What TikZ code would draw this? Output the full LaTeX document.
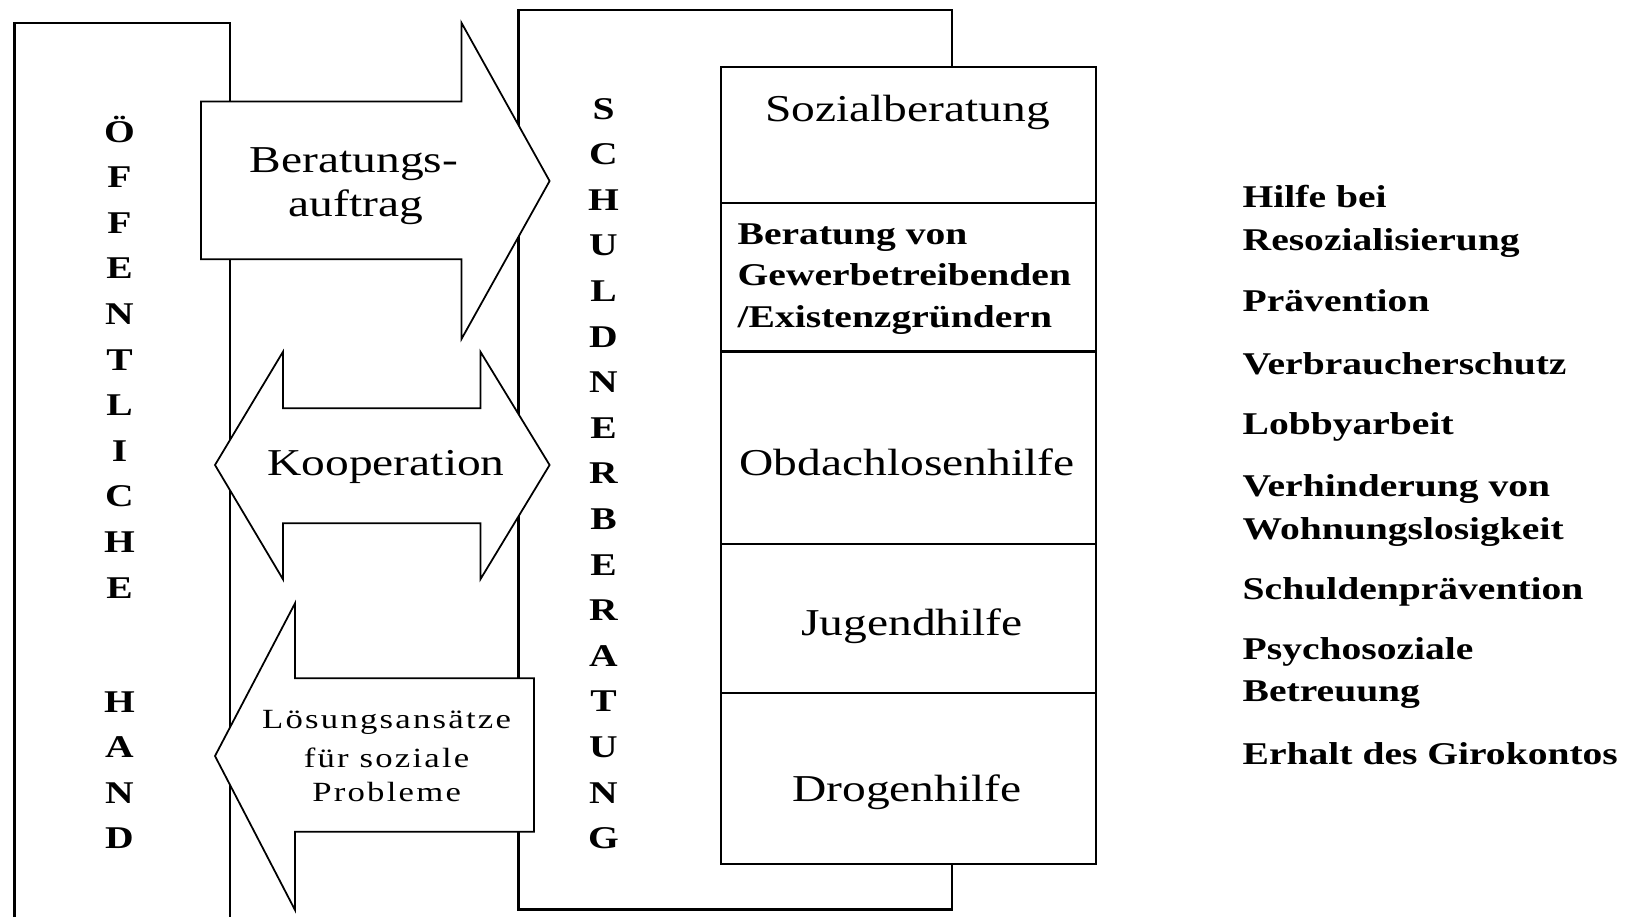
\documentclass[tikz,border=0pt]{standalone}
\usepackage{fontspec}
\setmainfont{Liberation Serif}[FakeStretch=1.25]
\newfontfamily\thinfont{Liberation Serif}[FakeStretch=1.25, LetterSpace=8]
\usepackage{tikz}
\tikzset{
    x=0.01cm,
    y=-0.01cm,
    frame/.style = {
        draw,
        line width=0.6pt
    },
    block/.style = {
        draw,
        fill=white,
        line width=0.6pt
    },
    bigarrow/.style = {
        draw,
        fill=white,
        line width=0.5pt,
        line join=miter
    },
    label/.style = {
        font=\fontsize{10.8}{12.2}\selectfont,
        anchor=base,
        inner sep=0pt
    },
    letter/.style = {
        font=\fontsize{9}{11}\selectfont\bfseries,
        anchor=base,
        inner sep=0pt
    },
    item/.style = {
        font=\fontsize{9}{12.1}\selectfont\bfseries,
        anchor=base west,
        align=left,
        inner sep=0pt
    },
    small/.style = {
        font=\thinfont\fontsize{7.9}{10.5}\selectfont,
        anchor=base,
        inner sep=0pt
    },
}

\begin{document}
\begin{tikzpicture}
            \useasboundingbox (0,0) rectangle (1626,917);

            % oeffentliche Hand (open at the bottom)
            \path[frame] (14.5,917) -- (14.5,23) -- (230,23) -- (230,917);
            % Schuldnerberatung
            \path[frame] (518.5,10.4) rectangle (952,909.5);

            % Arbeitsfelder
            \path[block] (720.7,67.4) rectangle (1096,203);
            \path[block] (720.7,203) rectangle (1096,351.5);
            \path[block] (720.7,351.5) rectangle (1096,544);
            \path[block] (720.7,544) rectangle (1096,693);
            \path[block] (720.7,693) rectangle (1096,864);

            % Pfeile
            \path[bigarrow] (201,101.6) -- (461.5,101.6) -- (461.5,22.8) -- (549.6,181)
                -- (461.5,339) -- (461.5,259.3) -- (201,259.3) -- cycle;
            \path[bigarrow] (215,465) -- (283,351.7) -- (283,408.3) -- (480.4,408.3)
                -- (480.4,351.7) -- (549.6,465) -- (480.4,579.3) -- (480.4,523.3)
                -- (283,523.3) -- (283,579.3) -- cycle;
            \path[bigarrow] (215,756) -- (295,603.3) -- (295,678.3) -- (534,678.3)
                -- (534,831.7) -- (295,831.7) -- (295,910) -- cycle;

            \node[label] (auftrag1) at (354,172.5) {Beratungs-};
            \node[label] (auftrag2) at (355.6,216) {auftrag};
            \node[label] (koop) at (386,475.7) {Kooperation};
            \node[small] (loes1) at (386.6,728) {Lösungsansätze};
            \node[small] (loes2) at (386.6,767) {für soziale};
            \node[small] (loes3) at (386.6,801.7) {Probleme};

            % senkrechte Schrift
            \foreach \ch [count=\k from 0] in {Ö,F,F,E,N,T,L,I,C,H,E}
                \node[letter] (oe\k) at (119.5,{142+45.6*\k}) {\ch};
            \foreach \ch [count=\k from 0] in {H,A,N,D}
                \node[letter] (hand\k) at (119.5,{712+45.6*\k}) {\ch};
            \foreach \ch [count=\k from 0] in {S,C,H,U,L,D,N,E,R,B,E,R,A,T,U,N,G}
                \node[letter] (sb\k) at (603.5,{119+45.6*\k}) {\ch};

            \node[label] (sozial) at (907.5,121) {Sozialberatung};
            % base anchor of a multi-line node = last line
            \node[item, font=\fontsize{9}{11.7}\selectfont\bfseries] (gewerbe) at (737,327)
                {Beratung von\\Gewerbetreibenden\\/Existenzgründern};
            \node[label] (obdach) at (907,475.5) {Obdachlosenhilfe};
            \node[label] (jugend) at (912,635) {Jugendhilfe};
            \node[label] (drogen) at (907,801) {Drogenhilfe};

            % Ziele
            \node[item] (resoz) at (1242,250.5) {Hilfe bei\\Resozialisierung};
            \node[item] (praev) at (1242,311.7) {Prävention};
            \node[item] (verbr) at (1242,374) {Verbraucherschutz};
            \node[item] (lobby) at (1242,434) {Lobbyarbeit};
            \node[item] (wohn) at (1242,539) {Verhinderung von\\Wohnungslosigkeit};
            \node[item] (schuld) at (1242,599) {Schuldenprävention};
            \node[item] (psycho) at (1242,701.6) {Psychosoziale\\Betreuung};
            \node[item] (giro) at (1242,764) {Erhalt des Girokontos};
        \end{tikzpicture}
\end{document}
